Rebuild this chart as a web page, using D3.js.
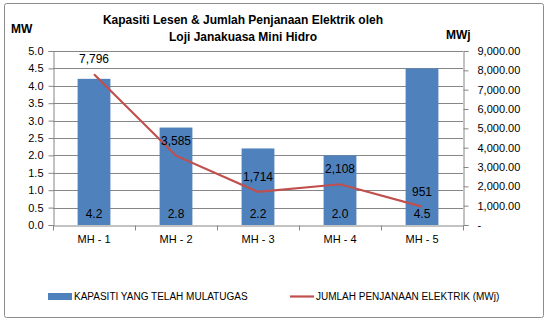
<!DOCTYPE html>
<html>
<head>
<meta charset="utf-8">
<script src="https://cdn.jsdelivr.net/npm/d3@7"></script>
<style>
  body { margin: 0; background: #fff; }
  svg { display: block; font-family: "Liberation Sans", Arial, sans-serif; }
</style>
</head>
<body>
<svg id="chart" width="549" height="324"></svg>
<script>
// Stations and their values
const categories = ["MH - 1", "MH - 2", "MH - 3", "MH - 4", "MH - 5"];
const capacityMW = [4.2, 2.8, 2.2, 2.0, 4.5];
const generationMWj = [7796, 3585, 1714, 2108, 951];
const leftTicks = [0, 0.5, 1, 1.5, 2, 2.5, 3, 3.5, 4, 4.5, 5];
const rightTicks = [0, 1000, 2000, 3000, 4000, 5000, 6000, 7000, 8000, 9000];
const titleLines = ["Kapasiti Lesen & Jumlah Penjanaan Elektrik oleh", "Loji Janakuasa Mini Hidro"];
const legendLabels = ["KAPASITI YANG TELAH MULATUGAS", "JUMLAH PENJANAAN ELEKTRIK (MWj)"];

const svg = d3.select("#chart");
const axisColor = "#868686";
const barColor = "#4F81BD";
const lineColor = "#C0504D";

// outer frame
svg.append("rect")
  .attr("x", 4.5).attr("y", 3.5).attr("width", 539).attr("height", 314)
  .attr("rx", 2).attr("fill", "#fff").attr("stroke", "#8c8c8c").attr("stroke-width", 1);

const plot = { left: 53, right: 463, top: 51, bottom: 225 };

const x = d3.scaleBand().domain(categories).range([plot.left, plot.right]).paddingInner(0.6).paddingOuter(0.3);
const xOuter = d3.scaleBand().domain(categories).range([plot.left, plot.right]);
const yL = d3.scaleLinear().domain([0, 5]).range([plot.bottom, plot.top]);
const yR = d3.scaleLinear().domain([0, 9000]).range([plot.bottom, plot.top]);

// gridlines
svg.append("g").selectAll("line").data(leftTicks.slice(1)).join("line")
  .attr("x1", plot.left).attr("x2", plot.right)
  .attr("y1", d => Math.round(yL(d)) + 0.5).attr("y2", d => Math.round(yL(d)) + 0.5)
  .attr("stroke", axisColor).attr("stroke-width", 1);

// bars
svg.append("g").selectAll("rect").data(categories).join("rect")
  .attr("x", d => x(d)).attr("width", x.bandwidth())
  .attr("y", (d, i) => yL(capacityMW[i]))
  .attr("height", (d, i) => yL(0) - yL(capacityMW[i]))
  .attr("fill", barColor);

// left axis
const axL = svg.append("g").attr("transform", `translate(${plot.left + 0.5},0)`)
  .call(d3.axisLeft(yL).tickValues(leftTicks).tickFormat(d3.format(".1f")).tickSize(5).tickPadding(5));
// right axis
const axR = svg.append("g").attr("transform", `translate(${plot.right + 0.5},0)`)
  .call(d3.axisRight(yR).tickValues(rightTicks)
    .tickFormat(d => d === 0 ? "-" : d3.format(",.2f")(d)).tickSize(5).tickPadding(9));
// bottom axis with ticks at category boundaries
const axB = svg.append("g").attr("transform", `translate(0,${plot.bottom + 0.5})`)
  .call(d3.axisBottom(xOuter).tickSize(0).tickPadding(10));
axB.selectAll(".bnd").data(categories.concat(["end"])).join("line")
  .attr("class", "bnd")
  .attr("x1", (d, i) => plot.left + i * xOuter.step() + 0.5)
  .attr("x2", (d, i) => plot.left + i * xOuter.step() + 0.5)
  .attr("y1", 0).attr("y2", 5).attr("stroke", axisColor);

[axL, axR, axB].forEach(g => {
  g.selectAll("path.domain").attr("stroke", axisColor);
  g.selectAll(".tick line").attr("stroke", axisColor);
  g.selectAll("text").attr("font-size", 11).attr("fill", "#000");
  g.attr("font-family", null);
});

// line series
const lineGen = d3.line()
  .x((d, i) => x(categories[i]) + x.bandwidth() / 2)
  .y(d => yR(d));
svg.append("path").datum(generationMWj)
  .attr("d", lineGen).attr("fill", "none")
  .attr("stroke", lineColor).attr("stroke-width", 2.2);

// line value labels
svg.append("g").selectAll("text").data(generationMWj).join("text")
  .attr("x", (d, i) => x(categories[i]) + x.bandwidth() / 2)
  .attr("y", d => yR(d) - 11)
  .attr("text-anchor", "middle").attr("font-size", 12).attr("fill", "#000")
  .text(d => d3.format(",")(d));

// bar value labels
svg.append("g").selectAll("text").data(capacityMW).join("text")
  .attr("x", (d, i) => x(categories[i]) + x.bandwidth() / 2)
  .attr("y", plot.bottom - 7)
  .attr("text-anchor", "middle").attr("font-size", 12).attr("fill", "#000")
  .text(d => d3.format(".1f")(d));

// title
svg.append("g").selectAll("text").data(titleLines).join("text")
  .attr("x", 243).attr("y", (d, i) => 24 + i * 17)
  .attr("text-anchor", "middle").attr("font-size", 12).attr("font-weight", "bold")
  .text(d => d);

// axis unit labels
svg.append("text").attr("x", 11).attr("y", 33).attr("font-size", 12).attr("font-weight", "bold").text("MW");
svg.append("text").attr("x", 446).attr("y", 39).attr("font-size", 12).attr("font-weight", "bold").text("MWj");

// legend
const lg = svg.append("g");
lg.append("rect").attr("x", 48).attr("y", 293).attr("width", 24).attr("height", 7).attr("fill", barColor);
lg.append("text").attr("x", 74).attr("y", 300).attr("font-size", 10).text(legendLabels[0]);
lg.append("line").attr("x1", 290).attr("x2", 314).attr("y1", 296.5).attr("y2", 296.5)
  .attr("stroke", lineColor).attr("stroke-width", 2.2);
lg.append("text").attr("x", 316).attr("y", 300).attr("font-size", 10).text(legendLabels[1]);
</script>
</body>
</html>
